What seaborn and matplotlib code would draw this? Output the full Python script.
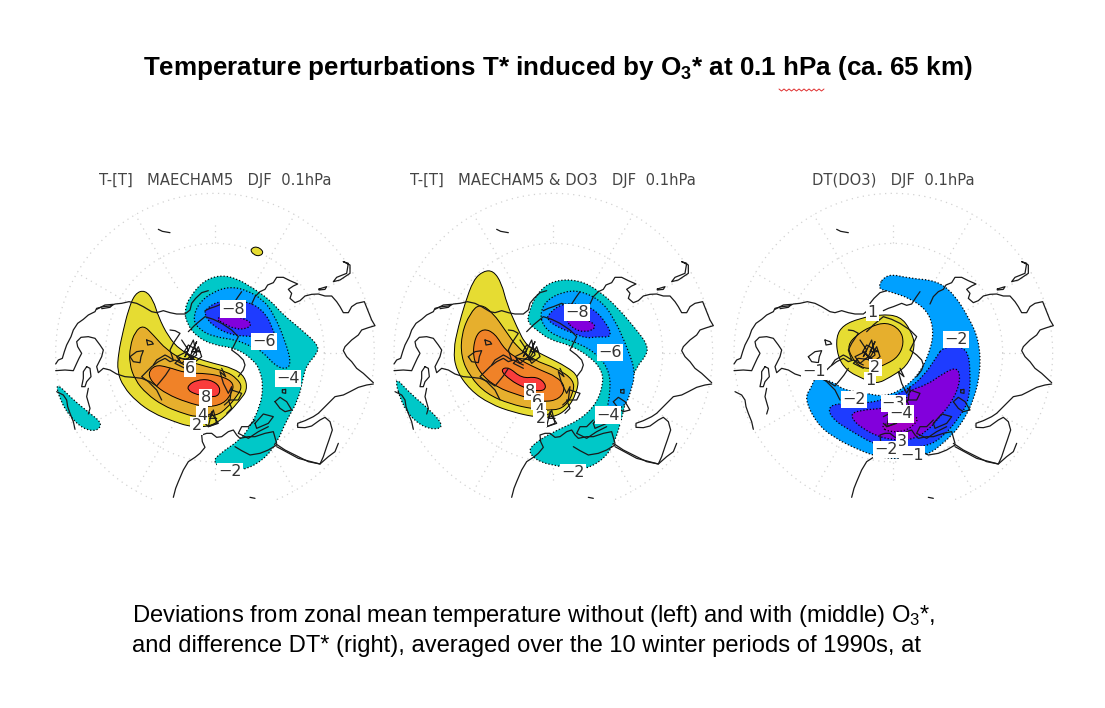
"""
Temperature perturbations T* at 0.1 hPa, three polar maps
Contour outlines and coasts read off the picture, in map units (3 units = 1 px)
"""

import numpy as np
import matplotlib
matplotlib.use('Agg')
import matplotlib.pyplot as plt
from matplotlib.path import Path
from matplotlib.patches import PathPatch
import seaborn as sns

# Texts
TITLE = 'Temperature perturbations T* induced by O$_3$* at 0.1 hPa (ca. 65 km)'
CAPTION_1 = 'Deviations from zonal mean temperature without (left) and with (middle) O$_3$*,'
CAPTION_2 = 'and difference DT* (right), averaged over the 10 winter periods of 1990s, at'
PANEL_TITLES = ['T-[T]   MAECHAM5   DJF  0.1hPa',
                'T-[T]   MAECHAM5 & DO3   DJF  0.1hPa',
                'DT(DO3)   DJF  0.1hPa']

# GrADS shading colours
YELLOW, GOLD, ORANGE, RED = sns.color_palette(['#e6dc32', '#e6af2d', '#f08228', '#fa3c3c'])
TEAL, SKY, BLUE, VIOLET, MAGENTA = sns.color_palette(['#00c8c8', '#00a0ff', '#1e3cff', '#8200dc', '#a000c8'])

# Left panel contours
P1_POS2 = [(315,390),(340,420),(355,470),(385,530),(420,570),(470,595),(520,610),(580,625),(615,650),(622,690),(600,720),(565,760),(530,790),(490,802),(445,799),(395,782),(340,760),(290,725),(250,680),(232,635),(235,580),(250,510),(265,450),(285,400)]
P1_POS4 = [(310,495),(340,525),(380,570),(430,600),(500,620),(560,635),(590,655),(607,680),(590,710),(560,745),(530,767),(470,772),(420,757),(370,737),(320,702),(285,660),(268,610),(270,560),(285,515)]
P1_POS6 = [(345,615),(380,620),(440,640),(500,640),(550,650),(582,670),(575,700),(550,732),(500,742),(440,727),(380,702),(340,672),(323,640)]
P1_POS8 = [(445,675),(470,660),(510,658),(542,680),(535,712),(490,707),(465,702),(443,690)]
P1_POS2_SPOT = [(630,268),(650,258),(672,275),(660,289),(640,284)]
P1_NEG2 = [(433,450),(450,410),(490,363),(540,345),(590,355),(640,385),(690,420),(730,465),(780,505),(835,555),(832,580),(800,615),(790,650),(775,720),(740,780),(710,850),(670,900),(610,932),(550,927),(518,905),(540,880),(600,840),(630,800),(660,740),(670,680),(660,630),(640,600),(590,565),(520,555),(470,530),(440,490)]
P1_NEG2_WEST = [(46,665),(100,720),(150,760),(187,790),(170,814),(130,807),(90,770),(60,720)]
P1_NEG4 = [(458,480),(475,430),(520,395),(570,380),(620,390),(670,420),(700,460),(735,540),(757,622),(715,627),(665,572),(630,558),(590,540),(520,530),(480,510)]
P1_NEG6 = [(495,450),(530,425),(580,420),(640,430),(680,465),(695,500),(712,542),(680,530),(640,530),(570,525),(515,495),(495,465)]
P1_NEG8 = [(525,475),(570,465),(610,475),(637,490),(620,507),(585,507),(550,490)]
P1_LABELS = [('−8',578,447),('−6',672,545),('−4',745,655),('−2',570,935),('6',450,625),('8',497,712),('4',486,765),('2',470,798)]

# Middle panel contours
P2_POS2 = [(340,332),(365,370),(380,430),(410,500),(440,560),(500,590),(560,620),(597,650),(590,700),(560,750),(520,772),(470,772),(400,757),(330,732),(270,690),(228,630),(220,570),(235,500),(255,430),(280,360),(310,333)]
P2_POS4 = [(300,430),(340,460),(375,510),(410,560),(460,600),(530,625),(582,660),(580,700),(555,740),(520,752),(460,747),(390,732),(320,702),(270,650),(243,590),(245,520),(270,460)]
P2_POS6 = [(310,505),(345,520),(375,570),(420,600),(480,630),(530,650),(557,680),(540,717),(490,727),(420,707),(350,682),(300,640),(278,590),(285,530)]
P2_POS8 = [(360,630),(385,620),(425,655),(470,650),(497,670),(495,692),(460,692),(430,682),(390,660)]
P2_NEG2 = [(443,465),(470,400),(520,360),(600,360),(660,395),(710,440),(770,510),(803,555),(800,585),(770,620),(745,680),(730,760),(700,860),(660,907),(600,932),(530,917),(480,907),(447,880),(455,855),(520,815),(600,780),(650,730),(670,670),(665,630),(630,590),(570,555),(510,540),(470,510),(445,490)]
P2_NEG2_WEST = [(40,645),(90,700),(150,750),(190,795),(170,810),(120,797),(70,745)]
P2_NEG4 = [(480,460),(500,420),(550,395),(600,392),(660,420),(700,470),(745,570),(767,640),(750,700),(740,730),(710,752),(680,752),(690,700),(690,640),(660,590),(600,550),(530,530),(490,500)]
P2_NEG6 = [(503,465),(540,433),(590,430),(640,445),(680,490),(697,532),(650,530),(620,535),(580,520),(530,500),(503,480)]
P2_NEG8 = [(555,478),(600,473),(640,488),(647,505),(615,517),(580,507)]
P2_LABELS = [('−8',590,457),('−6',690,577),('−4',685,765),('−2',578,938),('8',450,695),('6',472,725),('4',478,752),('2',482,775)]

# Right panel contours
P3_POS1 = [(348,530),(370,495),(420,475),(480,463),(540,468),(572,510),(587,560),(560,620),(510,652),(470,672),(430,657),(380,632),(353,590)]
P3_POS2 = [(383,555),(410,525),(450,500),(500,486),(542,510),(552,550),(535,590),(500,612),(460,627),(420,622),(393,590)]
P3_NEG1 = [(500,340),(570,355),(650,362),(700,400),(745,470),(777,540),(782,630),(762,720),(720,800),(670,850),(620,887),(540,897),(480,892),(420,872),(340,832),(290,790),(253,715),(275,680),(285,652),(340,665),(370,690),(440,700),(490,710),(545,690),(600,640),(635,560),(640,500),(620,450),(570,415),(510,395),(470,385)]
P3_NEG2 = [(670,560),(742,560),(752,640),(747,720),(720,770),(670,830),(620,860),(540,862),(470,857),(400,817),(340,780),(323,745),(350,730),(430,730),(490,720),(560,690),(610,650),(650,590)]
P3_NEG3 = [(570,690),(620,675),(670,640),(712,620),(722,660),(700,720),(660,770),(620,815),(570,842),(490,837),(420,802),(388,765),(420,750),(500,745),(560,720)]
P3_NEG4 = [(480,800),(520,780),(592,768),(592,785),(560,812),(510,817)]
P3_LABELS = [('1',457,458),('2',466,623),('1',450,662),('−1',282,635),('−2',403,718),('−3',520,730),('−4',543,762),('3',545,843),('−2',497,868),('−1',575,885),('−2',708,538)]

# Coasts, right panel frame
COAST_NORTH = [(42,612),(50,600),(62,595),(68,575),(75,555),(88,530),(95,510),(108,490),(125,478),(140,465),(160,455),(165,445),(185,440),(205,438),(220,432),(240,430),(262,425),(285,430),(305,440),(330,455),(345,458),(365,452),(385,458),(405,462),(430,462),(445,450),(450,430),(462,415),(480,398),(500,392)]
COAST_BARENTS = [(165,448),(190,435),(215,433),(205,442),(180,446)]
COAST_SIBERIA = [(490,452),(505,445),(520,440),(545,430),(560,436),(575,432),(588,412),(600,395)]
COAST_ASIA_N = [(630,432),(640,410),(655,395),(670,388),(678,375),(695,368),(705,352),(725,352),(745,362),(768,372),(755,378),(740,388),(750,400),(745,415),(760,428),(775,422),(790,408),(810,403),(830,402),(850,408),(870,408),(885,425),(895,440),(905,458),(920,458),(930,440),(945,430),(968,425),(978,450),(990,480),(1000,497),(980,503),(960,510),(950,525),(930,540),(910,560),(905,572),(915,590),(930,605),(945,625),(965,640),(995,668)]
COAST_ASIA_S = [(995,672),(975,675),(950,682),(925,695),(905,705),(880,710),(865,725),(850,740),(830,760),(815,770),(790,782),(768,790),(768,802),(790,803),(810,798),(835,780),(850,772),(865,785),(872,810),(862,840),(855,860),(845,890),(835,912),(800,905),(760,885),(730,870),(700,850)]
COAST_GULF = [(890,850),(880,875),(860,890),(835,912),(770,895),(705,860)]
COAST_BAY = [(42,632),(70,630),(95,632),(105,610),(112,595),(120,580),(108,560),(105,545),(118,532),(140,530),(160,535),(175,555),(185,570),(180,590),(165,620),(170,638),(185,625),(205,630),(225,642),(250,650),(275,652),(300,655),(325,665),(345,678),(360,660),(372,645),(385,625)]
COAST_WEST = [(45,695),(65,705),(75,720),(78,740),(85,760),(95,785),(100,808)]
COAST_ISLE_W = [(135,620),(145,625),(148,650),(135,665),(130,680),(120,680),(125,655),(125,635),(135,620)]
COAST_ISLE_W2 = [(140,685),(135,710),(145,745),(140,762)]
COAST_ISLE_MID = [(265,590),(285,575),(305,572),(298,590),(295,608),(275,605),(265,590)]
COAST_BLOB = [(315,540),(330,545),(335,552),(318,555),(315,540)]
COAST_ARCHIPELAGO = [(420,540),(440,570),(430,590),(455,540),(465,585),(445,600),(470,560),(480,590),(455,610),(435,575),(405,590),(420,610),(445,590),(465,545),(450,575),(475,575),(440,555),(428,575),(460,600),(415,595),(400,610),(430,625)]
COAST_ARCTIC = [(385,510),(400,512),(415,520),(405,535),(395,550),(385,570),(395,600),(380,590),(370,585),(345,600),(335,615)]
COAST_EUROPE = [(360,720),(345,690),(320,665),(300,650),(315,635),(330,620),(350,605),(370,595),(385,605),(400,600),(415,608),(430,615)]
COAST_INNER = [(440,515),(460,495),(490,470),(515,478),(540,490),(570,510),(590,530),(580,550),(570,570),(590,585),(605,600),(610,615),(605,630),(590,650)]
COAST_SCAND = [(540,625),(552,650),(535,635),(545,670),(560,700),(570,680),(565,720),(548,735)]
COAST_NORDIC = [(570,690),(600,700),(590,720),(560,720),(570,745),(555,760)]
COAST_BALTIC = [(510,755),(500,800),(525,790),(515,750),(505,775),(525,775)]
COAST_IBERIA = [(490,770),(510,760),(530,790),(500,800),(490,790)]
COAST_ATLANTIC = [(395,1012),(402,985),(410,965),(425,930),(440,905),(460,892),(475,880),(490,862),(482,845),(480,825),(495,820),(510,820),(525,832),(540,830),(560,815),(575,810),(585,825),(595,835),(620,830),(640,830),(670,820),(695,815),(705,850)]
COAST_MED = [(580,860),(600,872),(625,885),(655,880),(680,870),(705,855)]
COAST_AEGEAN = [(640,780),(620,800),(600,800),(590,820),(620,835),(650,815),(680,800)]
COAST_BLACK = [(640,790),(665,762),(695,770),(680,790),(645,805),(640,790)]
COAST_CASPIAN = [(700,725),(715,712),(735,725),(750,750),(730,755),(715,745),(700,725)]
COAST_ARAL = [(722,690),(732,688),(732,700),(722,698),(722,690)]
COAST_JAPAN = [(905,305),(920,310),(915,340),(885,352),(875,365),(895,360),(925,340),(925,315),(905,305)]
COAST_KURIL = [(832,387),(855,380),(850,388),(832,390),(832,387)]
COAST_SPECK_TOP = [(350,208),(362,214),(385,218)]
COAST_SPECK_BOTTOM = [(625,1012),(640,1015)]

COASTS = [COAST_NORTH, COAST_BARENTS, COAST_SIBERIA, COAST_ASIA_N, COAST_ASIA_S, COAST_GULF, COAST_BAY, COAST_WEST,
          COAST_ISLE_W, COAST_ISLE_W2, COAST_ISLE_MID, COAST_BLOB, COAST_ARCHIPELAGO, COAST_ARCTIC, COAST_EUROPE,
          COAST_INNER, COAST_SCAND, COAST_NORDIC, COAST_BALTIC, COAST_IBERIA, COAST_ATLANTIC, COAST_MED, COAST_AEGEAN,
          COAST_BLACK, COAST_CASPIAN, COAST_ARAL, COAST_JAPAN, COAST_KURIL, COAST_SPECK_TOP, COAST_SPECK_BOTTOM]

# Panel set up: (contour, colour, dotted) in drawing order
PANELS = [
    dict(left=40, pole=525, shift=5, title_x=215, labels=P1_LABELS, layers=[
        (P1_POS2, YELLOW, False), (P1_POS2_SPOT, YELLOW, False), (P1_POS4, GOLD, False), (P1_POS6, ORANGE, False), (P1_POS8, RED, False),
        (P1_NEG2, TEAL, True), (P1_NEG2_WEST, TEAL, True), (P1_NEG4, SKY, True), (P1_NEG6, BLUE, True), (P1_NEG8, VIOLET, True)]),
    dict(left=380, pole=520, shift=0, title_x=553, labels=P2_LABELS, layers=[
        (P2_POS2, YELLOW, False), (P2_POS4, GOLD, False), (P2_POS6, ORANGE, False), (P2_POS8, RED, False),
        (P2_NEG2, TEAL, True), (P2_NEG2_WEST, TEAL, True), (P2_NEG4, SKY, True), (P2_NEG6, BLUE, True), (P2_NEG8, VIOLET, True)]),
    dict(left=720, pole=520, shift=0, title_x=893, labels=P3_LABELS, layers=[
        (P3_POS1, YELLOW, False), (P3_POS2, GOLD, False),
        (P3_NEG1, SKY, True), (P3_NEG2, BLUE, True), (P3_NEG3, VIOLET, True), (P3_NEG4, MAGENTA, True)]),
]

POLE_Y = 578
RIM = 478
LAT30 = 328
W, H = 1105, 708


def smooth_path(points):
    """Closed quadratic path with the read points as control points"""
    pts = np.array(points, dtype=float)
    mids = (pts + np.roll(pts, -1, axis=0)) / 2
    verts = [mids[-1]]
    codes = [Path.MOVETO]
    for ctrl, mid in zip(pts, mids):
        verts += [ctrl, mid]
        codes += [Path.CURVE3, Path.CURVE3]
    return Path(verts, codes)


def draw_grid(ax, pole):
    """Dotted latitude circles and meridians"""
    grid = dict(color='#d2d2d2', lw=0.9, ls=(0, (1, 3.5)), zorder=1)
    theta = np.linspace(0, 2 * np.pi, 361)
    for r in [RIM, LAT30]:
        ax.plot(pole + r * np.cos(theta), POLE_Y + r * np.sin(theta), **grid)
    for deg in range(0, 360, 30):
        a = np.deg2rad(deg)
        inner = LAT30 if deg % 90 == 0 else 224
        outer = 393 if deg % 90 == 0 else RIM
        ax.plot([pole + inner * np.sin(a), pole + outer * np.sin(a)],
                [POLE_Y + inner * np.cos(a), POLE_Y + outer * np.cos(a)], **grid)


def draw_panel(fig, panel):
    ax = fig.add_axes([panel['left'] / W, 1 - 500 / H, 345 / W, 340 / H])
    ax.set_axis_off()
    draw_grid(ax, panel['pole'])

    for points, colour, dotted in panel['layers']:
        ax.add_patch(PathPatch(smooth_path(points), facecolor=colour, edgecolor='black',
                               lw=0.9 if dotted else 0.7, ls=(0, (1, 1.6)) if dotted else '-', zorder=2))

    for coast in COASTS:
        xs = [p[0] + panel['shift'] for p in coast]
        ys = [p[1] for p in coast]
        sns.lineplot(x=xs, y=ys, sort=False, estimator=None, color='#1a1a1a', lw=0.9, ax=ax, legend=False, zorder=3)

    for text, x, y in panel['labels']:
        ax.text(x, y, text, ha='center', va='center', fontsize=11.5, color='#333333', zorder=5,
                family='DejaVu Sans', bbox=dict(facecolor='white', edgecolor='none', pad=0.8))

    ax.set_xlim(0, 1035)
    ax.set_ylim(1020, 0)
    ax.set_xlabel('')
    ax.set_ylabel('')
    ax.set_axis_off()


def main():
    sns.set_theme(style='white')
    plt.rcParams['font.family'] = ['Liberation Sans', 'DejaVu Sans']
    plt.rcParams['mathtext.default'] = 'regular'

    fig = plt.figure(figsize=(W / 100, H / 100), dpi=100, facecolor='white')

    for panel, title in zip(PANELS, PANEL_TITLES):
        draw_panel(fig, panel)
        fig.text(panel['title_x'] / W, 1 - 180 / H, title, ha='center', va='center', fontsize=10.6,
                 color='#444444', family='DejaVu Sans')

    fig.text(143 / W, 1 - 75 / H, TITLE, ha='left', va='baseline', fontsize=18.7, fontweight='bold', color='black')
    fig.text(132 / W, 1 - 622 / H, CAPTION_1, ha='left', va='baseline', fontsize=17.1, color='black')
    fig.text(132 / W, 1 - 652 / H, CAPTION_2, ha='left', va='baseline', fontsize=17.1, color='black')

    # spell-check squiggle under hPa
    sx = np.arange(779, 826, 2.5)
    sy = 90 + np.where(np.arange(len(sx)) % 2 == 0, -1, 1)
    fig.add_artist(plt.Line2D(sx / W, 1 - sy / H, color='#e03030', lw=0.7))

    fig.savefig('out.png', dpi=100)
    plt.close(fig)


if __name__ == '__main__':
    main()
